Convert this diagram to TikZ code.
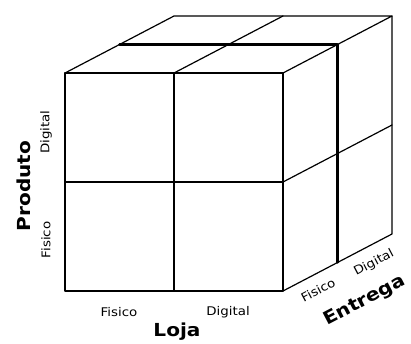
\documentclass[tikz,border=0pt]{standalone}
\usepackage{fontspec}
\setmainfont{DejaVu Sans}[FakeStretch=1.12]
\usetikzlibrary{calc}

\begin{document}
\begin{tikzpicture}[x=1bp,y=-1bp,
  edge/.style={line width=1.2bp,line cap=round,line join=round},
  midline/.style={line width=2.4bp,line cap=round,line join=round},
  axisname/.style={font=\fontsize{18}{18}\selectfont\bfseries,inner sep=0pt},
  catname/.style={font=\fontsize{12}{12}\selectfont,inner sep=0pt}]

  \useasboundingbox (0,0) rectangle (411,344);

  % corners of the front face
  \coordinate (ftl) at (65,73);
  \coordinate (ftr) at (283,73);
  \coordinate (fbl) at (65,291);
  \coordinate (fbr) at (283,291);

  % depth of the cube
  \coordinate (depth) at (109,-57);

  % back corners
  \coordinate (btl) at ($(ftl)+(depth)$);
  \coordinate (btr) at ($(ftr)+(depth)$);
  \coordinate (bbr) at ($(fbr)+(depth)$);

  % halfway points
  \coordinate (ftm) at ($(ftl)!0.5!(ftr)$);
  \coordinate (fbm) at ($(fbl)!0.5!(fbr)$);
  \coordinate (flm) at ($(ftl)!0.5!(fbl)$);
  \coordinate (frm) at ($(ftr)!0.5!(fbr)$);
  \coordinate (btm) at ($(ftm)+(depth)$);
  \coordinate (brm) at ($(frm)+(depth)$);
  \coordinate (mtl) at ($(ftl)!0.5!(btl)$);
  \coordinate (mtr) at ($(ftr)!0.5!(btr)$);
  \coordinate (mbr) at ($(fbr)!0.5!(bbr)$);

  % front face
  \draw[edge] (ftl) rectangle (fbr);
  \draw[edge] (ftm) -- (fbm);
  \draw[edge] (flm) -- (frm);

  % top face
  \draw[edge] (ftl) -- (btl) -- (btr) -- (ftr);
  \draw[edge] (ftm) -- (btm);

  % right face
  \draw[edge] (btr) -- (bbr) -- (fbr);
  \draw[edge] (frm) -- (brm);

  % cut halfway in depth
  \draw[midline] (mtl) -- (mtr) -- (mbr);

  % Produto axis
  \node[axisname,rotate=90] (produto) at (24,186) {Produto};
  \node[catname,rotate=90] (pdigital) at (46,132) {Digital};
  \node[catname,rotate=90] (pfisico) at (46,240) {Fisico};

  % Loja axis
  \node[catname] (lfisico) at (119,312) {Fisico};
  \node[catname] (ldigital) at (228,312) {Digital};
  \node[axisname] (loja) at (177,332) {Loja};

  % Entrega axis
  \node[catname,rotate=27.6] (efisico) at (318,290) {Fisico};
  \node[catname,rotate=27.6] (edigital) at (374,263) {Digital};
  \node[axisname,rotate=27.6] (entrega) at (365,301) {Entrega};

\end{tikzpicture}
\end{document}
